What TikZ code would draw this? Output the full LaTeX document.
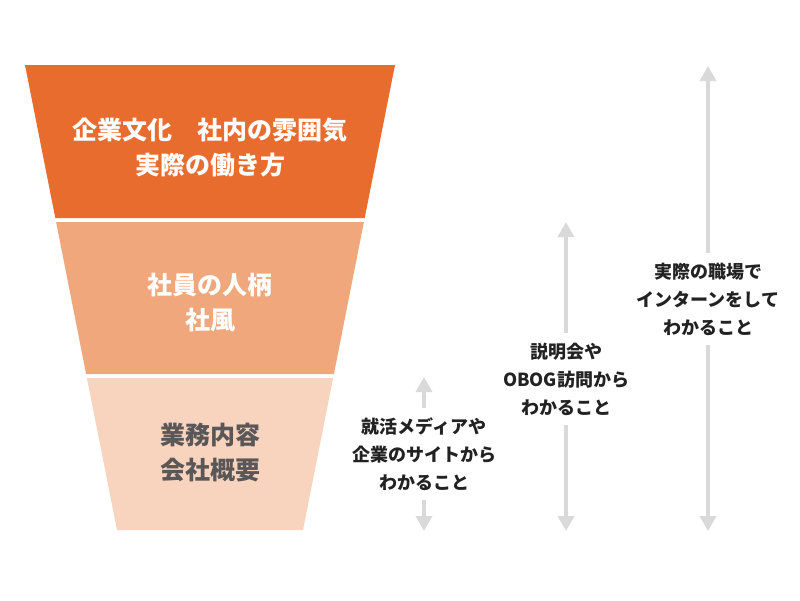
\documentclass[tikz,border=0pt]{standalone}
\usepackage{fontspec}
\newfontfamily\cjk{Noto Sans CJK JP}
\usetikzlibrary{arrows.meta}
\definecolor{layA}{HTML}{E96C2F}
\definecolor{layB}{HTML}{EFA77B}
\definecolor{layC}{HTML}{F8D3BE}
\definecolor{grayTxt}{HTML}{595757}
\definecolor{arrGray}{HTML}{D9D9D9}
\definecolor{lblTxt}{HTML}{222222}
\tikzset{
  bigtxt/.style={align=center, font=\cjk\bfseries\fontsize{25}{35}\selectfont, inner sep=0pt},
  lbl/.style={align=center, font=\cjk\bfseries\fontsize{18}{28}\selectfont, text=lblTxt, fill=white, inner sep=4pt, outer sep=5.5pt},
  garrow/.style={draw=arrGray, line width=3.5pt, -{Triangle[width=16pt,length=15pt]}}
}
\begin{document}
\begin{tikzpicture}[x=1pt,y=-1pt]
\useasboundingbox (0,0) rectangle (800,600);
% funnel layers
\fill[layA] (25,65) -- (395,65) -- (364.7,218) -- (55.3,218) -- cycle;
\fill[layB] (56.1,222) -- (363.9,222) -- (333.9,374) -- (86.1,374) -- cycle;
\fill[layC] (86.9,378) -- (333.1,378) -- (303,530) -- (117,530) -- cycle;
\node[bigtxt, text=white] (t1) at (210,147.5) {企業文化　社内の雰囲気\\実際の働き方};
\node[bigtxt, text=white] (t2) at (210,302.5) {社員の人柄\\社風};
\node[bigtxt, text=grayTxt] (t3) at (210,452.5) {業務内容\\会社概要};
% arrows
\coordinate (a1t) at (424,377);
\coordinate (a1b) at (424,531);
\coordinate (a2t) at (566,222);
\coordinate (a2b) at (566,531);
\coordinate (a3t) at (708,66);
\coordinate (a3b) at (708,531);
\node[lbl] (l1) at (424,454) {就活メディアや\\企業のサイトから\\わかること};
\node[lbl] (l2) at (566,379) {説明会や\\OBOG訪問から\\わかること};
\node[lbl] (l3) at (708,299) {実際の職場で\\インターンをして\\わかること};
\draw[garrow] (l1) -- (a1t);
\draw[garrow] (l1) -- (a1b);
\draw[garrow] (l2) -- (a2t);
\draw[garrow] (l2) -- (a2b);
\draw[garrow] (l3) -- (a3t);
\draw[garrow] (l3) -- (a3b);
\end{tikzpicture}
\end{document}
